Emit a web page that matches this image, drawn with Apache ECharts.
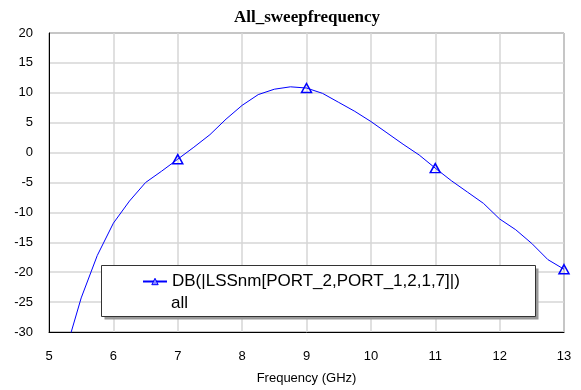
<!DOCTYPE html>
<html>
<head>
<meta charset="utf-8">
<script src="https://cdn.jsdelivr.net/npm/echarts@6/dist/echarts.min.js"></script>
<style>
  html, body { margin: 0; padding: 0; background: #fff; }
  #chart { width: 581px; height: 390px; }
</style>
</head>
<body>
<div id="chart"></div>
<script>
// Swept transmission response, 0.25 GHz steps
var freqGHz = [5.25, 5.5, 5.75, 6, 6.25, 6.5, 6.75, 7, 7.25, 7.5, 7.75, 8, 8.25, 8.5, 8.75, 9,
               9.25, 9.5, 9.75, 10, 10.25, 10.5, 10.75, 11, 11.25, 11.5, 11.75, 12, 12.25, 12.5, 12.75, 13];
var gainDB = [-33.5, -24.3, -17.2, -11.8, -8.1, -5.0, -3.1, -1.1, 0.9, 3.0, 5.6, 7.9, 9.7, 10.6, 11.0, 10.8,
              9.9, 8.4, 6.9, 5.2, 3.3, 1.4, -0.4, -2.6, -4.7, -6.6, -8.5, -11.1, -12.9, -15.2, -17.9, -19.5];
// Frequencies that carry a triangle marker
var markerFreqs = [7, 9, 11, 13];

var seriesName = 'DB(|LSSnm[PORT_2,PORT_1,2,1,7]|)';
var sweepName = 'all';
var titleText = 'All_sweepfrequency';
var xName = 'Frequency (GHz)';

var lineData = freqGHz.map(function (f, i) {
  return {
    value: [f, gainDB[i]],
    symbol: markerFreqs.indexOf(f) >= 0 ? 'triangle' : 'none'
  };
});

var chart = echarts.init(document.getElementById('chart'), null, { renderer: 'canvas' });

var sans = 'Liberation Sans, Arial, sans-serif';
var axisFont = { fontFamily: sans, fontSize: 13, color: '#000' };

chart.setOption({
  animation: false,
  backgroundColor: '#fff',
  title: {
    text: titleText,
    left: 307,
    top: 9,
    padding: 0,
    textAlign: 'center',
    textStyle: {
      fontFamily: 'Liberation Serif, Times New Roman, serif',
      fontWeight: 'bold',
      fontSize: 17,
      color: '#000'
    }
  },
  grid: {
    left: 49,
    top: 33,
    width: 515,
    height: 303,
    show: true,
    borderColor: '#333',
    borderWidth: 1,
    backgroundColor: 'transparent'
  },
  xAxis: {
    type: 'value',
    min: 5,
    max: 13,
    interval: 1,
    name: xName,
    nameLocation: 'middle',
    nameGap: 40,
    nameTextStyle: axisFont,
    axisLine: { show: true, onZero: false, lineStyle: { color: '#000', width: 1 } },
    axisTick: { show: false },
    axisLabel: Object.assign({ margin: 18 }, axisFont),
    splitLine: { show: true, lineStyle: { color: '#d6d6d6', width: 1.5 } }
  },
  yAxis: {
    type: 'value',
    min: -30,
    max: 20,
    interval: 5,
    axisLine: { show: true, onZero: false, lineStyle: { color: '#000', width: 1 } },
    axisTick: { show: false },
    axisLabel: Object.assign({ margin: 16, padding: [5, 0, 0, 0] }, axisFont),
    splitLine: { show: true, lineStyle: { color: '#d6d6d6', width: 1.5 } }
  },
  legend: {
    left: 142,
    top: 273,
    padding: 0,
    itemWidth: 24,
    itemHeight: 8,
    itemGap: 0,
    itemStyle: { color: '#8c8cff', borderColor: '#0000ff', borderWidth: 1 },
    textStyle: { fontFamily: sans, fontSize: 17, color: '#000' },
    data: [seriesName],
    z: 6
  },
  graphic: [
    {
      type: 'rect',
      z: 4,
      shape: { x: 104.5, y: 268.5, width: 434, height: 51 },
      style: { fill: '#9a9a9a' }
    },
    {
      type: 'rect',
      z: 5,
      shape: { x: 101.5, y: 265.5, width: 434, height: 51 },
      style: { fill: '#fff', stroke: '#333', lineWidth: 1 }
    },
    {
      type: 'text',
      z: 6,
      left: 171,
      top: 295,
      style: {
        text: sweepName,
        fontFamily: sans,
        fontSize: 17,
        fill: '#000'
      }
    }
  ],
  series: [
    {
      name: seriesName,
      type: 'line',
      data: lineData,
      symbol: 'triangle',
      symbolSize: [10, 9],
      showSymbol: true,
      showAllSymbol: true,
      clip: true,
      z: 3,
      lineStyle: { color: '#0000ff', width: 1 },
      itemStyle: { color: 'rgba(255,255,255,0)', borderColor: '#0000ff', borderWidth: 1.5 }
    }
  ]
});
</script>
</body>
</html>
